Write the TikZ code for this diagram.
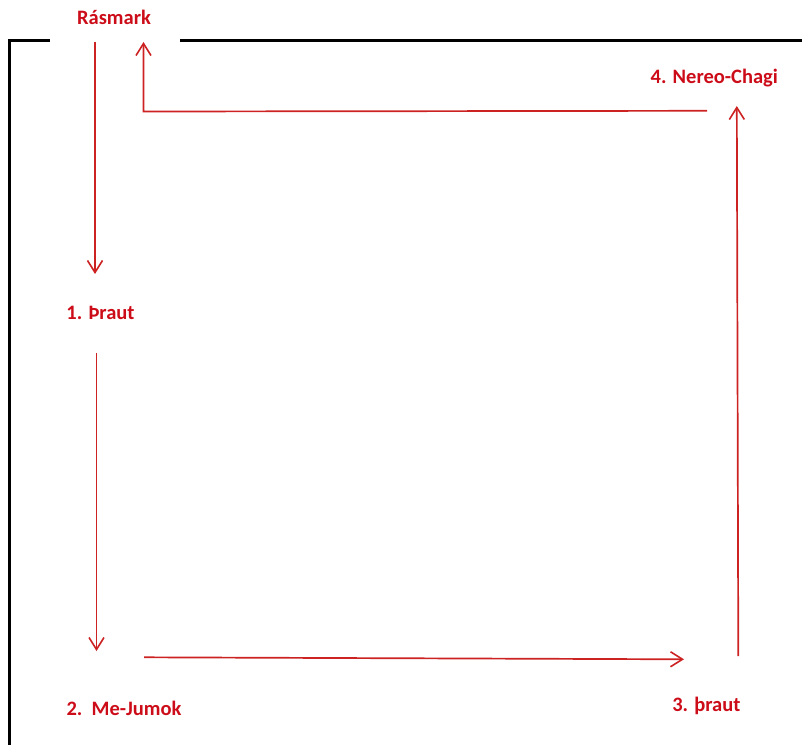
\documentclass[tikz,border=0pt]{standalone}
\usepackage{fontspec}
\setmainfont{Carlito}
\usetikzlibrary{arrows.meta}
\definecolor{lblred}{RGB}{204,12,24}
\definecolor{arrred}{RGB}{204,34,34}
\begin{document}
\begin{tikzpicture}[x=1pt,y=-1pt,
  lbl/.style={text=lblred,font=\fontsize{20.5}{24}\selectfont\bfseries,inner sep=0pt,anchor=base},
  frame/.style={draw=black,line width=3pt},
  conn/.style={draw=arrred,line width=1.7pt,-{Straight Barb[length=12pt,width=15pt,line width=1.6pt]}}]
\useasboundingbox (0,0) rectangle (802,744);
% frame
\draw[frame] (50,40) -- (9,40) -- (9,746);
\draw[frame] (180,40) -- (804,40);
% labels
\node[lbl] (ras) at (114,24.3) {Rásmark};
\node[lbl] (t1) at (100.5,319) {1. Þraut};
\node[lbl] (t2) at (124,715) {2.\ \ Me-Jumok};
\node[lbl] (t3) at (706.3,711.7) {3. þraut};
\node[lbl] (t4) at (714.3,83.3) {4. Nereo-Chagi};
% connector end points
\coordinate (a1s) at (95,42);
\coordinate (a1e) at (95,274);
\coordinate (a2s) at (96.5,353);
\coordinate (a2e) at (96.5,651);
\coordinate (a3s) at (144,657.3);
\coordinate (a3e) at (684,659.3);
\coordinate (a4s) at (738.3,656);
\coordinate (a4e) at (736.8,106);
\coordinate (a5s) at (707,110.8);
\coordinate (a5c) at (143.5,111.5);
\coordinate (a5e) at (143.5,42);
% connectors
\draw[conn] (a1s) -- (a1e);
\draw[conn] (a2s) -- (a2e);
\draw[conn] (a3s) -- (a3e);
\draw[conn] (a4s) -- (a4e);
\draw[conn] (a5s) -- (a5c) -- (a5e);
\end{tikzpicture}
\end{document}
